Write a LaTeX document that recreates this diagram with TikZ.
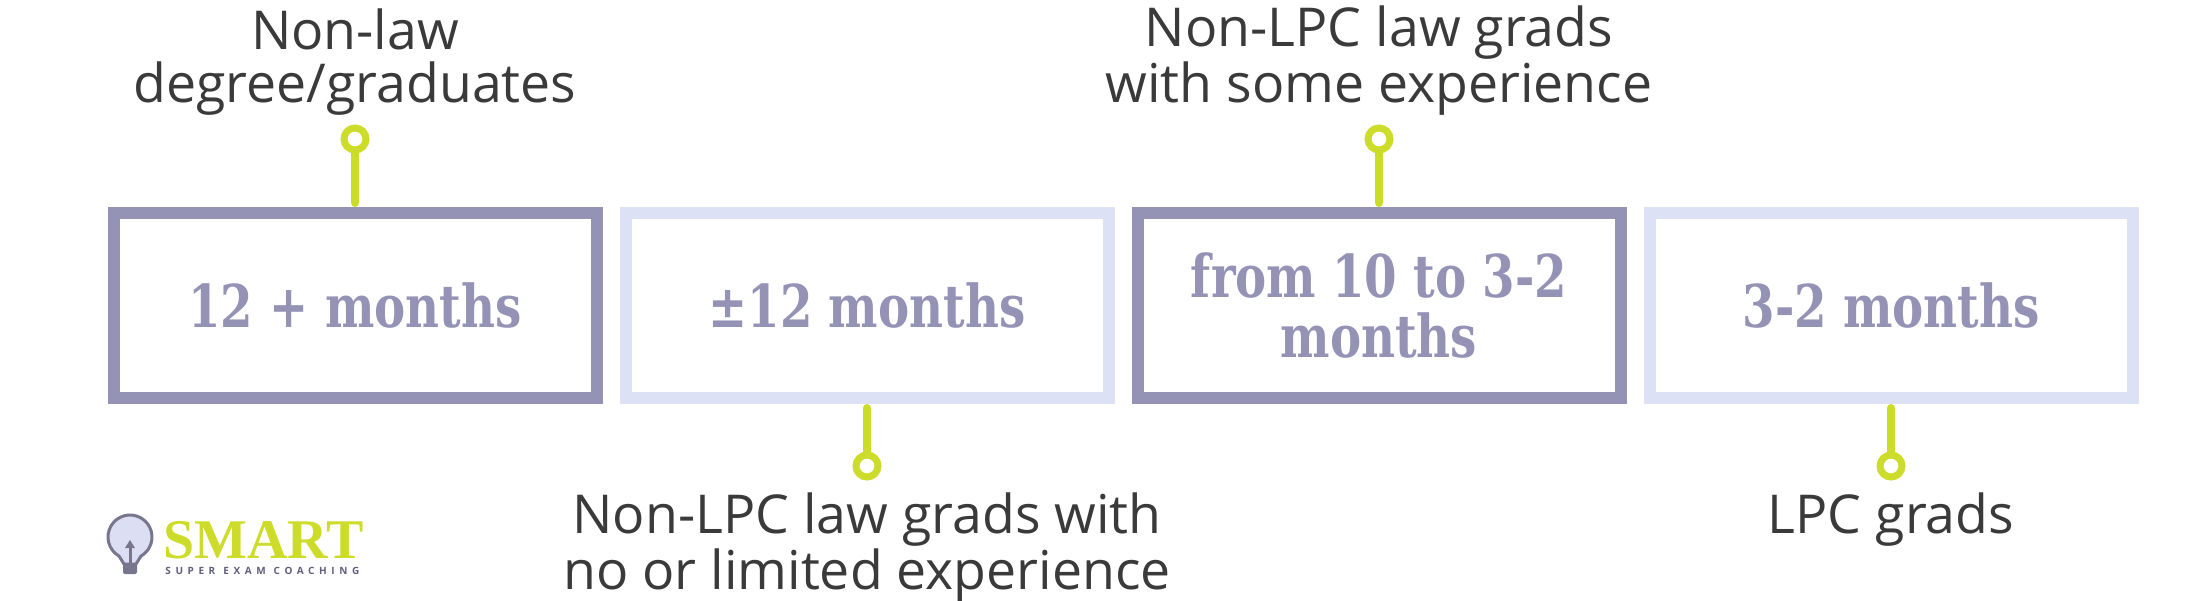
\documentclass[tikz,border=0pt]{standalone}
\usepackage{fontspec}
\setmainfont{Open Sans}
\newfontfamily\slabfont{DejaVu Serif Condensed}[FakeStretch=0.88]
\newfontfamily\logofont{Liberation Serif}
\newfontfamily\tagfont{Open Sans}[LetterSpace=46]
\usetikzlibrary{positioning}
\definecolor{darkbox}{HTML}{9493B6}
\definecolor{lightbox}{HTML}{DDE1F5}
\definecolor{pin}{HTML}{CDDC2A}
\definecolor{labeltext}{HTML}{3A3A3A}
\definecolor{bulbline}{HTML}{77768E}
\definecolor{bulbfill}{HTML}{DCDFF3}
\definecolor{tagtext}{HTML}{605E7C}
\tikzset{
    period/.style={draw=#1, line width=6pt, minimum width=241.5pt, minimum height=92.5pt,
        inner sep=0pt, align=center, text=darkbox,
        font=\slabfont\bfseries\fontsize{29.5}{30}\selectfont},
    pinhead/.style={circle, draw=pin, line width=3.5pt, minimum size=11pt, inner sep=0pt},
    pinline/.style={draw=pin, line width=4pt, line cap=round},
    group/.style={text=labeltext, align=center, inner sep=0pt,
        font=\fontsize{26.8}{26.5}\selectfont}
}
\begin{document}
\begin{tikzpicture}[x=0.5pt,y=-0.5pt]
        \useasboundingbox (0,0) rectangle (2200,600);
        % periods
        \node[period=darkbox] (b1) at (355,305.5) {12 + months};
        \node[period=lightbox, right=8.5pt of b1] (b2) {±12 months};
        \node[period=darkbox, right=8.5pt of b2] (b3) {from 10 to 3-2\\months};
        \node[period=lightbox, right=8.5pt of b3] (b4) {3-2 months};
        % pins
        \node[pinhead, above=26.75pt of b1] (p1) {};
        \node[pinhead, below=23.75pt of b2] (p2) {};
        \node[pinhead, above=26.75pt of b3] (p3) {};
        \node[pinhead, below=23.75pt of b4] (p4) {};
        \draw[pinline, shorten <=2pt] (b1) -- (p1);
        \draw[pinline, shorten <=2pt] (b2) -- (p2);
        \draw[pinline, shorten <=2pt] (b3) -- (p3);
        \draw[pinline, shorten <=2pt] (b4) -- (p4);
        % groups
        \node[group, above=4.5pt of p1] (g1) {Non-law\\degree/graduates};
        \node[group, below=6pt of p2] (g2) {Non-LPC law grads with\\no or limited experience};
        \node[group, above=4.5pt of p3] (g3) {Non-LPC law grads\\with some experience};
        \node[group, below=6pt of p4] (g4) {LPC grads};
        % logo
        \draw[bulbline, fill=bulbfill, line width=1.5pt] (130,537) ++(120:22)
            arc[start angle=120, end angle=420, radius=22] -- (136,564) -- (124,564) -- cycle;
        \fill[bulbline, rounded corners=1pt] (123,563) rectangle (137,574);
        \draw[bulbline, line width=1.5pt] (130,566) -- (130,546);
        \fill[bulbline] (125,548) -- (130,540) -- (135,548) -- cycle;
        \node[anchor=base west, inner sep=0pt, text=pin,
            font=\logofont\bfseries\fontsize{28}{30}\selectfont] (brand) at (163,558) {SMART};
        \node[anchor=base west, inner sep=0pt, text=tagtext,
            font=\tagfont\bfseries\fontsize{5}{5}\selectfont] (tagline) at (165,574)
            {SUPER\hspace{4pt}EXAM\hspace{4pt}COACHING};
\end{tikzpicture}
\end{document}
